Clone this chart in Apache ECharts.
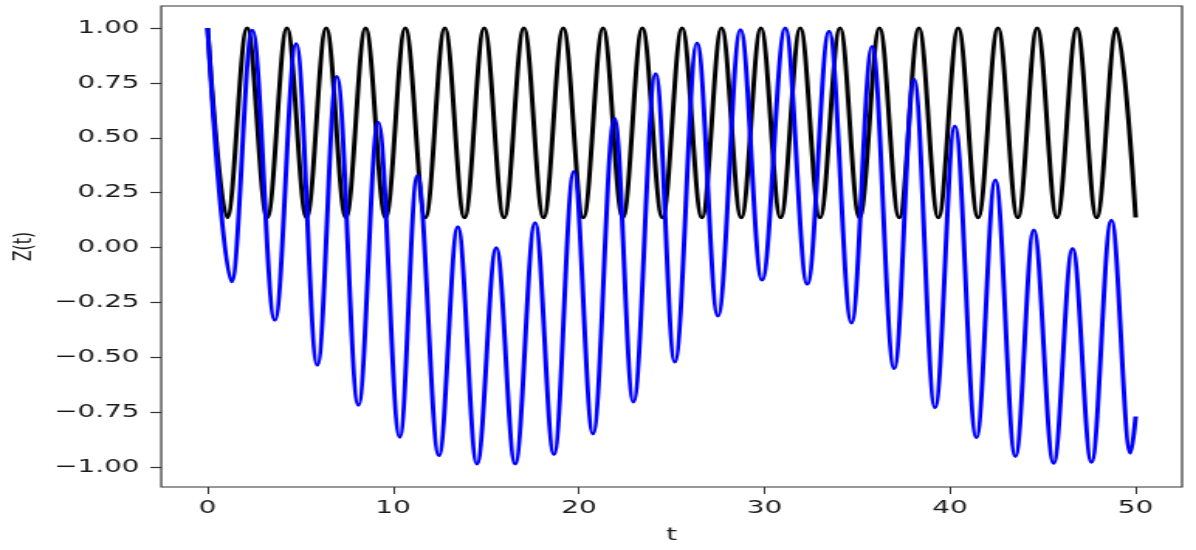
<!DOCTYPE html>
<html>
<head>
<meta charset="utf-8">
<script src="https://cdn.jsdelivr.net/npm/echarts@6/dist/echarts.min.js"></script>
<style>
  html, body { margin: 0; padding: 0; background: #fff; overflow: hidden; }
  /* the reference picture is stretched sideways, so the chart is drawn narrow and widened */
  #chart { width: 772px; height: 550px; transform: scaleX(1.5492); transform-origin: 0 0; }
</style>
</head>
<body>
<div id="chart"></div>
<script>
// tick labels
var xTicks = [0, 10, 20, 30, 40, 50]
var yTicks = [-1.0, -0.75, -0.5, -0.25, 0.0, 0.25, 0.5, 0.75, 1.0]

// black curve: turning points (flat at the start)
var blackT = [0, 0.02, 1.05, 2.13, 3.21, 4.27, 5.33, 6.39, 7.45, 8.51, 9.59, 10.65, 11.73, 12.78, 13.84,
  14.90, 15.97, 17.04, 18.10, 19.16, 20.24, 21.30, 22.37, 23.42, 24.50, 25.56, 26.63, 27.69, 28.75,
  29.81, 30.87, 31.93, 32.99, 34.07, 35.12, 36.20, 37.26, 38.32, 39.37, 40.44, 41.51, 42.58, 43.65,
  44.69, 45.76, 46.83, 47.90, 48.97, 50]
var blackZ = [1.0, 1.0, 0.136, 1.0, 0.136, 1.0, 0.136, 1.0, 0.136, 1.0, 0.136, 1.0, 0.136, 1.0, 0.136,
  1.0, 0.136, 1.0, 0.136, 1.0, 0.136, 1.0, 0.136, 1.0, 0.136, 1.0, 0.136, 1.0, 0.136,
  1.0, 0.136, 1.0, 0.136, 1.0, 0.136, 1.0, 0.136, 1.0, 0.136, 1.0, 0.136, 1.0, 0.136,
  1.0, 0.136, 1.0, 0.136, 1.0, 0.137]

// blue curve: turning points (flat at the start)
var blueT = [0, 0.02, 1.29, 2.41, 3.62, 4.77, 5.91, 6.96, 8.12, 9.19, 10.35, 11.30, 12.46, 13.48, 14.51,
  15.55, 16.57, 17.64, 18.66, 19.73, 20.76, 21.92, 22.94, 24.14, 25.17, 26.37, 27.49, 28.71, 29.87,
  31.12, 32.31, 33.48, 34.69, 35.80, 36.99, 38.06, 39.19, 40.26, 41.42, 42.44, 43.52, 44.51, 45.58,
  46.60, 47.62, 48.69, 49.72, 50]
var blueZ = [1.0, 1.0, -0.156, 0.99, -0.331, 0.928, -0.536, 0.779, -0.718, 0.571, -0.863, 0.328, -0.947, 0.095, -0.985,
  -0.001, -0.985, 0.113, -0.942, 0.346, -0.848, 0.589, -0.703, 0.792, -0.521, 0.932, -0.312, 0.992, -0.148,
  1.0, -0.167, 0.985, -0.343, 0.916, -0.551, 0.767, -0.729, 0.554, -0.866, 0.308, -0.951, 0.080, -0.982,
  -0.004, -0.977, 0.125, -0.936, -0.769]

function pairs (ts, zs) {
  return ts.map(function (t, i) { return [t, zs[i]] })
}

var font = 'DejaVu Sans'
var chart = echarts.init(document.getElementById('chart'))

var option = {
  animation: false,
  grid: {
    left: 100,
    right: 9,
    top: 6,
    bottom: 63,
    show: true,
    borderColor: '#333',
    borderWidth: 1.2
  },
  xAxis: {
    type: 'value',
    min: -2.5,
    max: 52.5,
    name: 't',
    nameLocation: 'middle',
    nameGap: 39,
    nameTextStyle: { fontFamily: font, fontSize: 18, color: '#1a1a1a' },
    axisLine: { show: false, onZero: false },
    axisTick: { show: true, length: 7, customValues: xTicks, lineStyle: { color: '#333', width: 1 } },
    axisLabel: {
      customValues: xTicks,
      margin: 12,
      fontFamily: font,
      fontSize: 18,
      color: '#1a1a1a'
    },
    splitLine: { show: false }
  },
  yAxis: {
    type: 'value',
    min: -1.09,
    max: 1.1,
    name: 'Z(t)',
    nameLocation: 'middle',
    nameGap: 80,
    nameTextStyle: { fontFamily: font, fontSize: 16, color: '#1a1a1a' },
    axisLine: { show: false, onZero: false },
    axisTick: { show: true, length: 7, customValues: yTicks, lineStyle: { color: '#333', width: 1.2 } },
    axisLabel: {
      customValues: yTicks,
      margin: 14,
      fontFamily: font,
      fontSize: 18,
      color: '#1a1a1a',
      formatter: function (v) {
        return (v < 0 ? '\u2212' : '') + Math.abs(v).toFixed(2)
      }
    },
    splitLine: { show: false }
  },
  series: [
    {
      name: 'black',
      type: 'line',
      data: pairs(blackT, blackZ),
      showSymbol: false,
      smooth: 0.36,
      smoothMonotone: 'x',
      lineStyle: { color: '#000', width: 3 }
    },
    {
      name: 'blue',
      type: 'line',
      data: pairs(blueT, blueZ),
      showSymbol: false,
      smooth: 0.36,
      smoothMonotone: 'x',
      lineStyle: { color: '#0000ff', width: 3 }
    }
  ]
}
chart.setOption(option)
</script>
</body>
</html>
